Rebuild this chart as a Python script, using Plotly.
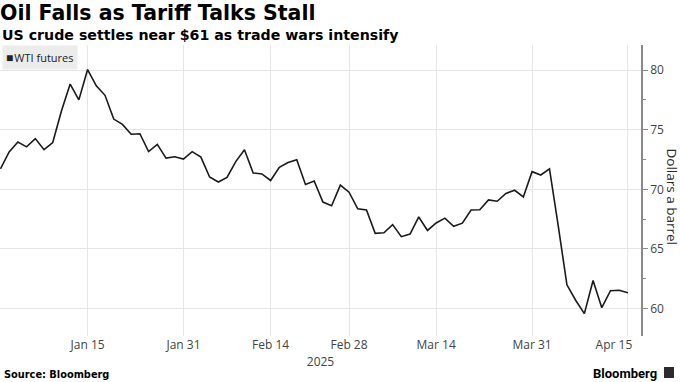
import plotly.graph_objects as go

# Trading days (WTI front-month settlements)
dates = [
    "2024-12-31", "2025-01-02", "2025-01-03", "2025-01-06", "2025-01-07", "2025-01-08",
    "2025-01-09", "2025-01-10", "2025-01-13", "2025-01-14", "2025-01-15", "2025-01-16",
    "2025-01-17", "2025-01-21", "2025-01-22", "2025-01-23", "2025-01-24", "2025-01-27",
    "2025-01-28", "2025-01-29", "2025-01-30", "2025-01-31", "2025-02-03", "2025-02-04",
    "2025-02-05", "2025-02-06", "2025-02-07", "2025-02-10", "2025-02-11", "2025-02-12",
    "2025-02-13", "2025-02-14", "2025-02-18", "2025-02-19", "2025-02-20", "2025-02-21",
    "2025-02-24", "2025-02-25", "2025-02-26", "2025-02-27", "2025-02-28", "2025-03-03",
    "2025-03-04", "2025-03-05", "2025-03-06", "2025-03-07", "2025-03-10", "2025-03-11",
    "2025-03-12", "2025-03-13", "2025-03-14", "2025-03-17", "2025-03-18", "2025-03-19",
    "2025-03-20", "2025-03-21", "2025-03-24", "2025-03-25", "2025-03-26", "2025-03-27",
    "2025-03-28", "2025-03-31", "2025-04-01", "2025-04-02", "2025-04-03", "2025-04-04",
    "2025-04-07", "2025-04-08", "2025-04-09", "2025-04-10", "2025-04-11", "2025-04-14",
    "2025-04-15",
]
wti = [
    71.72, 73.13, 73.96, 73.56, 74.25, 73.32,
    73.92, 76.57, 78.82, 77.50, 80.04, 78.68,
    77.88, 75.89, 75.44, 74.62, 74.66, 73.17,
    73.77, 72.62, 72.73, 72.53, 73.16, 72.70,
    71.03, 70.61, 71.00, 72.32, 73.32, 71.37,
    71.29, 70.74, 71.85, 72.25, 72.48, 70.40,
    70.70, 68.93, 68.62, 70.35, 69.76, 68.37,
    68.26, 66.31, 66.36, 67.04, 66.03, 66.25,
    67.68, 66.55, 67.18, 67.58, 66.90, 67.16,
    68.26, 68.28, 69.11, 69.00, 69.65, 69.92,
    69.36, 71.48, 71.20, 71.71, 66.95, 61.99,
    60.70, 59.58, 62.35, 60.07, 61.50, 61.53,
    61.33,
]
tick_dates = ["2025-01-15", "2025-01-31", "2025-02-14", "2025-02-28",
              "2025-03-14", "2025-03-31", "2025-04-15"]
tick_labels = ["Jan 15", "Jan 31", "Feb 14", "Feb 28", "Mar 14", "Mar 31",
               "Apr 15" + "\u00a0" * 9]
y_ticks = [60, 65, 70, 75, 80]
series_name = "WTI futures"
title = "Oil Falls as Tariff Talks Stall"
subtitle = "US crude settles near $61 as trade wars intensify"
source = "Source: Bloomberg"
y_title = "Dollars a barrel"
year_label = "2025"
brand = "Bloomberg"

W, H = 680, 382
ML, MR, MT, MB = 0, 39, 45, 46
PW, PH = W - ML - MR, H - MT - MB


def py(px):  # pixel y -> paper y
    return (H - MB - px) / PH


def pxx(px):  # pixel x -> paper x
    return (px - ML) / PW


LABEL_FONT = "Open Sans"
BOLD_FONT = "DejaVu Sans"

fig = go.Figure()
fig.add_trace(go.Scatter(
    x=dates, y=wti, mode="lines", name=series_name,
    line=dict(color="#1a1a1a", width=1.6), showlegend=False,
))

fig.update_layout(
    width=W, height=H,
    margin=dict(l=ML, r=MR, t=MT, b=MB, autoexpand=False),
    paper_bgcolor="white", plot_bgcolor="white",
    showlegend=False,
    title=dict(text=f"<b>{title}</b>", x=0.0, xref="container", xanchor="left",
               y=1 - 13 / H, yref="container", yanchor="middle",
               font=dict(family=BOLD_FONT, size=20.5, color="#000000")),
)

fig.update_xaxes(
    type="category", automargin=False,
    range=[-0.05, len(dates) - 1 + 1.5],
    tickmode="array", tickvals=tick_dates, ticktext=tick_labels,
    showgrid=True, gridcolor="#e6e6e6", gridwidth=1,
    ticks="", showline=False, zeroline=False,
    tickfont=dict(family=LABEL_FONT, size=12, color="#444444"),
    title=dict(text=year_label, standoff=0,
               font=dict(family=LABEL_FONT, size=12, color="#444444")),
)

fig.update_yaxes(
    side="right", range=[57.7, 82.1], automargin=False,
    tickmode="array", tickvals=y_ticks,
    showgrid=True, gridcolor="#e6e6e6", gridwidth=1,
    ticks="outside", ticklen=5, tickcolor="#8a8a8a", tickwidth=1,
    showline=True, linecolor="#8a8a8a", linewidth=1.5,
    zeroline=False,
    minor=dict(tickvals=[62.5, 67.5, 72.5, 77.5], ticks="outside", ticklen=3,
               tickcolor="#8a8a8a", showgrid=False),
    tickfont=dict(family=LABEL_FONT, size=12, color="#444444"),
)

# Subtitle
fig.add_annotation(
    text=f"<b>{subtitle}</b>", xref="paper", yref="paper",
    x=pxx(0), y=py(35), xanchor="left", yanchor="middle", showarrow=False,
    font=dict(family=BOLD_FONT, size=14.2, color="#000000"),
)

# Legend chip
fig.add_annotation(
    text=f"<span style='font-size:12px'>\u25a0</span>\u200a{series_name}",
    xref="paper", yref="paper", x=pxx(2), y=py(45), xanchor="left", yanchor="top",
    showarrow=False, bgcolor="#ececec", borderpad=3,
    font=dict(family=LABEL_FONT, size=11, color="#222222"),
)

# Y axis title (reads top to bottom)
fig.add_annotation(
    text=y_title, xref="paper", yref="paper", x=pxx(671.5), y=py(196),
    xanchor="center", yanchor="middle", textangle=90, showarrow=False,
    font=dict(family=LABEL_FONT, size=13.5, color="#2a2a2a"),
)

# Footer
fig.add_annotation(
    text=f"<b>{source}</b>", xref="paper", yref="paper", x=pxx(2), y=py(374),
    xanchor="left", yanchor="middle", showarrow=False,
    font=dict(family=BOLD_FONT, size=9.8, color="#000000"),
)
fig.add_annotation(
    text=f"<b>{brand}</b>", xref="paper", yref="paper", x=pxx(659), y=py(373),
    xanchor="right", yanchor="middle", showarrow=False,
    font=dict(family="Roboto", size=13, color="#000000"),
)
fig.add_shape(
    type="rect", xref="paper", yref="paper",
    x0=pxx(664), x1=pxx(674), y0=py(378), y1=py(367),
    fillcolor="#2b2b2b", line=dict(width=0),
)

fig.write_html(
    "out.html",
    config={"displayModeBar": False},
    post_script="document.body.style.margin='0';document.body.style.padding='0';",
)
